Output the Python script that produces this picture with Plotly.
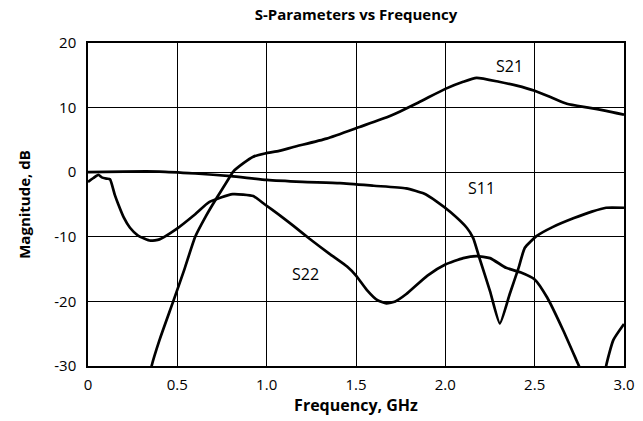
import plotly.graph_objects as go

# ---- data ----
s21_f = [0.33, 0.356, 0.40, 0.477, 0.54, 0.60, 0.66, 0.72, 0.77, 0.813, 0.87, 0.925, 0.99, 1.07,
         1.15, 1.335, 1.52, 1.69, 1.85, 2.0, 2.1, 2.175, 2.3, 2.4, 2.5, 2.6, 2.68, 2.8, 2.9, 3.0]
s21_db = [-34, -30, -26, -20, -15, -10, -6.8, -4.0, -1.8, 0.1, 1.4, 2.4, 2.9, 3.3,
          3.9, 5.2, 7.0, 8.7, 10.8, 12.9, 14.0, 14.6, 14.0, 13.4, 12.6, 11.5, 10.6, 10.0, 9.5, 8.9]

s11_f = [0, 0.2, 0.4, 0.6, 0.8, 1.0, 1.2, 1.41, 1.6, 1.78, 1.88, 1.95, 2.03, 2.12, 2.156,
         2.19, 2.25, 2.305, 2.36, 2.41, 2.445, 2.51, 2.6, 2.72, 2.82, 2.9, 3.0]
s11_db = [0, 0.1, 0.1, -0.2, -0.6, -1.2, -1.5, -1.7, -2.1, -2.5, -3.3, -4.5, -6.2, -8.6, -10.2,
          -13.2, -18.4, -23.4, -18.9, -14.8, -11.7, -9.9, -8.5, -7.1, -6.1, -5.5, -5.5]

s22_f = [0, 0.03, 0.058, 0.077, 0.105, 0.123, 0.15, 0.17, 0.2, 0.235, 0.28, 0.35, 0.40, 0.49,
         0.6, 0.68, 0.81, 0.925, 0.99, 1.07, 1.15, 1.24, 1.35, 1.45, 1.5, 1.56, 1.62, 1.67,
         1.72, 1.78, 1.9, 2.0, 2.1, 2.175, 2.25, 2.34, 2.42, 2.5, 2.57, 2.66, 2.74, 2.78,
         None, 2.885, 2.90, 2.94, 3.0]
s22_db = [-1.5, -0.9, -0.4, -0.8, -1.0, -1.1, -3.5, -5.0, -7.0, -8.6, -9.8, -10.6, -10.4, -8.9,
          -6.5, -4.6, -3.4, -3.7, -5.0, -6.6, -8.3, -10.3, -12.6, -14.6, -16.0, -18.2, -19.8, -20.3,
          -20.0, -18.9, -16.0, -14.3, -13.3, -13.0, -13.3, -14.8, -15.5, -16.6, -19.4, -24.5, -29.5, -32,
          None, -33, -30, -26, -23.5]

x_ticks = [0, 0.5, 1.0, 1.5, 2.0, 2.5, 3.0]
x_tick_labels = ["0", "0.5", "1.0", "1.5", "2.0", "2.5", "3.0"]
y_ticks = [20, 10, 0, -10, -20, -30]
y_tick_labels = ["20", "10", "0", "-10", "-20", "-30"]

labels = ["S21", "S11", "S22"]
label_f = [2.36, 2.2, 1.22]
label_db = [16.4, -2.5, -15.7]

FONT = "Open Sans"

fig = go.Figure()
for fx, fy in [(s21_f, s21_db), (s11_f, s11_db), (s22_f, s22_db)]:
    fig.add_trace(go.Scatter(x=fx, y=fy, mode="lines",
                             line=dict(color="black", width=2.7, shape="spline", smoothing=0.5),
                             connectgaps=False, showlegend=False, hoverinfo="skip"))

for t, fx, fy in zip(labels, label_f, label_db):
    fig.add_annotation(x=fx, y=fy, text=t, showarrow=False,
                       font=dict(family=FONT, size=16, color="black"))

axis_common = dict(showgrid=True, gridcolor="black", gridwidth=1.3,
                   showline=True, linecolor="black", linewidth=1.5, mirror=True,
                   ticks="", zeroline=False, automargin=False,
                   tickfont=dict(family=FONT, size=15, color="black"))

W, H = 643, 421

fig.update_layout(
    width=W, height=H,
    margin=dict(l=88, r=19, t=43, b=55),
    paper_bgcolor="white", plot_bgcolor="white",
    title=dict(text="<b>S-Parameters vs Frequency</b>", x=(88 + 624) / 2 / W, xanchor="center",
               y=1 - 15 / H, yanchor="middle",
               font=dict(family=FONT, size=15, color="black")),
    xaxis=dict(range=[0, 3], tickvals=x_ticks, ticktext=x_tick_labels, ticklabelstandoff=4,
               title=dict(text="<b>Frequency, GHz</b>", standoff=3,
                          font=dict(family=FONT, size=16, color="black")),
               **axis_common),
    yaxis=dict(range=[-30, 20], tickvals=y_ticks, ticktext=y_tick_labels, ticklabelstandoff=7,
               title=dict(text="<b>Magnitude, dB</b>", standoff=20,
                          font=dict(family=FONT, size=15, color="black")),
               **axis_common),
)

fig.write_html("out.html", config={"displayModeBar": False},
               post_script="document.body.style.margin='0';")
